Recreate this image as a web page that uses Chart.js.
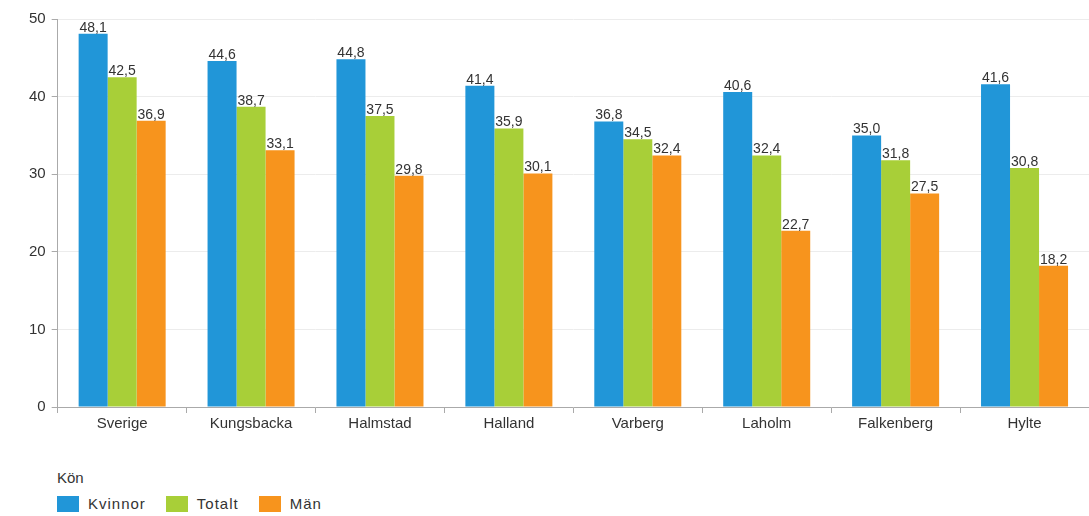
<!DOCTYPE html>
<html>
<head>
<meta charset="utf-8">
<script src="https://cdn.jsdelivr.net/npm/chart.js@4/dist/chart.umd.min.js"></script>
<style>
  html, body { margin: 0; padding: 0; background: #fff; }
  #wrap { width: 1089px; height: 440px; position: relative; }
  #legend { position: absolute; left: 57px; top: 469px; font: 15px Arial, "Liberation Sans", sans-serif; color: #333; }
  #legend .title { margin-bottom: 9px; }
  #legend .item { display: inline-block; margin-right: 20px; letter-spacing: 1px; }
  #legend .box { display: inline-block; width: 22px; height: 16px; vertical-align: -3px; margin-right: 9px; }
</style>
</head>
<body>
<div id="wrap"><canvas id="chart"></canvas></div>
<div id="legend"></div>
<script>
// data
const kommuner = ['Sverige', 'Kungsbacka', 'Halmstad', 'Halland', 'Varberg', 'Laholm', 'Falkenberg', 'Hylte'];
const kvinnor = [48.1, 44.6, 44.8, 41.4, 36.8, 40.6, 35.0, 41.6];
const totalt  = [42.5, 38.7, 37.5, 35.9, 34.5, 32.4, 31.8, 30.8];
const man     = [36.9, 33.1, 29.8, 30.1, 32.4, 22.7, 27.5, 18.2];
const yTicks = [0, 10, 20, 30, 40, 50];

const FONT = 'Arial, "Liberation Sans", sans-serif';

// draws the value above each bar, with a decimal comma
const valueLabels = {
  id: 'valueLabels',
  afterDatasetsDraw(chart) {
    const ctx = chart.ctx;
    ctx.save();
    ctx.font = '14px ' + FONT;
    ctx.fillStyle = '#333';
    ctx.textAlign = 'center';
    ctx.textBaseline = 'bottom';
    chart.data.datasets.forEach((ds, i) => {
      chart.getDatasetMeta(i).data.forEach((bar, j) => {
        ctx.fillText(ds.data[j].toFixed(1).replace('.', ','), bar.x, bar.y + 1);
      });
    });
    ctx.restore();
  }
};

const chart = new Chart(document.getElementById('chart'), {
  type: 'bar',
  data: {
    labels: kommuner,
    datasets: [
      { label: 'Kvinnor', data: kvinnor, backgroundColor: '#2196d8' },
      { label: 'Totalt', data: totalt, backgroundColor: '#a8cf38' },
      { label: 'Män', data: man, backgroundColor: '#f7941d' }
    ]
  },
  options: {
    responsive: true,
    maintainAspectRatio: false,
    animation: false,
    datasets: { bar: { categoryPercentage: 0.675, barPercentage: 1.0 } },
    layout: { padding: { top: 19, left: 23, right: 0, bottom: 5 } },
    plugins: {
      tooltip: { enabled: false },
      legend: { display: false }
    },
    scales: {
      x: {
        grid: { drawOnChartArea: false, tickLength: 6, tickColor: '#aaa' },
        border: { color: '#aaa' },
        ticks: { color: '#333', font: { family: FONT, size: 15 }, padding: 2 }
      },
      y: {
        min: 0, max: 50,
        afterBuildTicks(axis) { axis.ticks = yTicks.map(v => ({ value: v })); },
        grid: { color: '#ececec', tickLength: 6, tickColor: '#aaa' },
        border: { color: '#aaa' },
        ticks: { color: '#333', font: { family: FONT, size: 15 }, padding: 6 }
      }
    }
  },
  plugins: [valueLabels]
});

// legend with title, built from the chart datasets
const legend = document.getElementById('legend');
legend.innerHTML = '<div class="title">Kön</div>' + chart.data.datasets.map(ds =>
  '<span class="item"><span class="box" style="background:' + ds.backgroundColor + '"></span>' + ds.label + '</span>'
).join('');
</script>
</body>
</html>
